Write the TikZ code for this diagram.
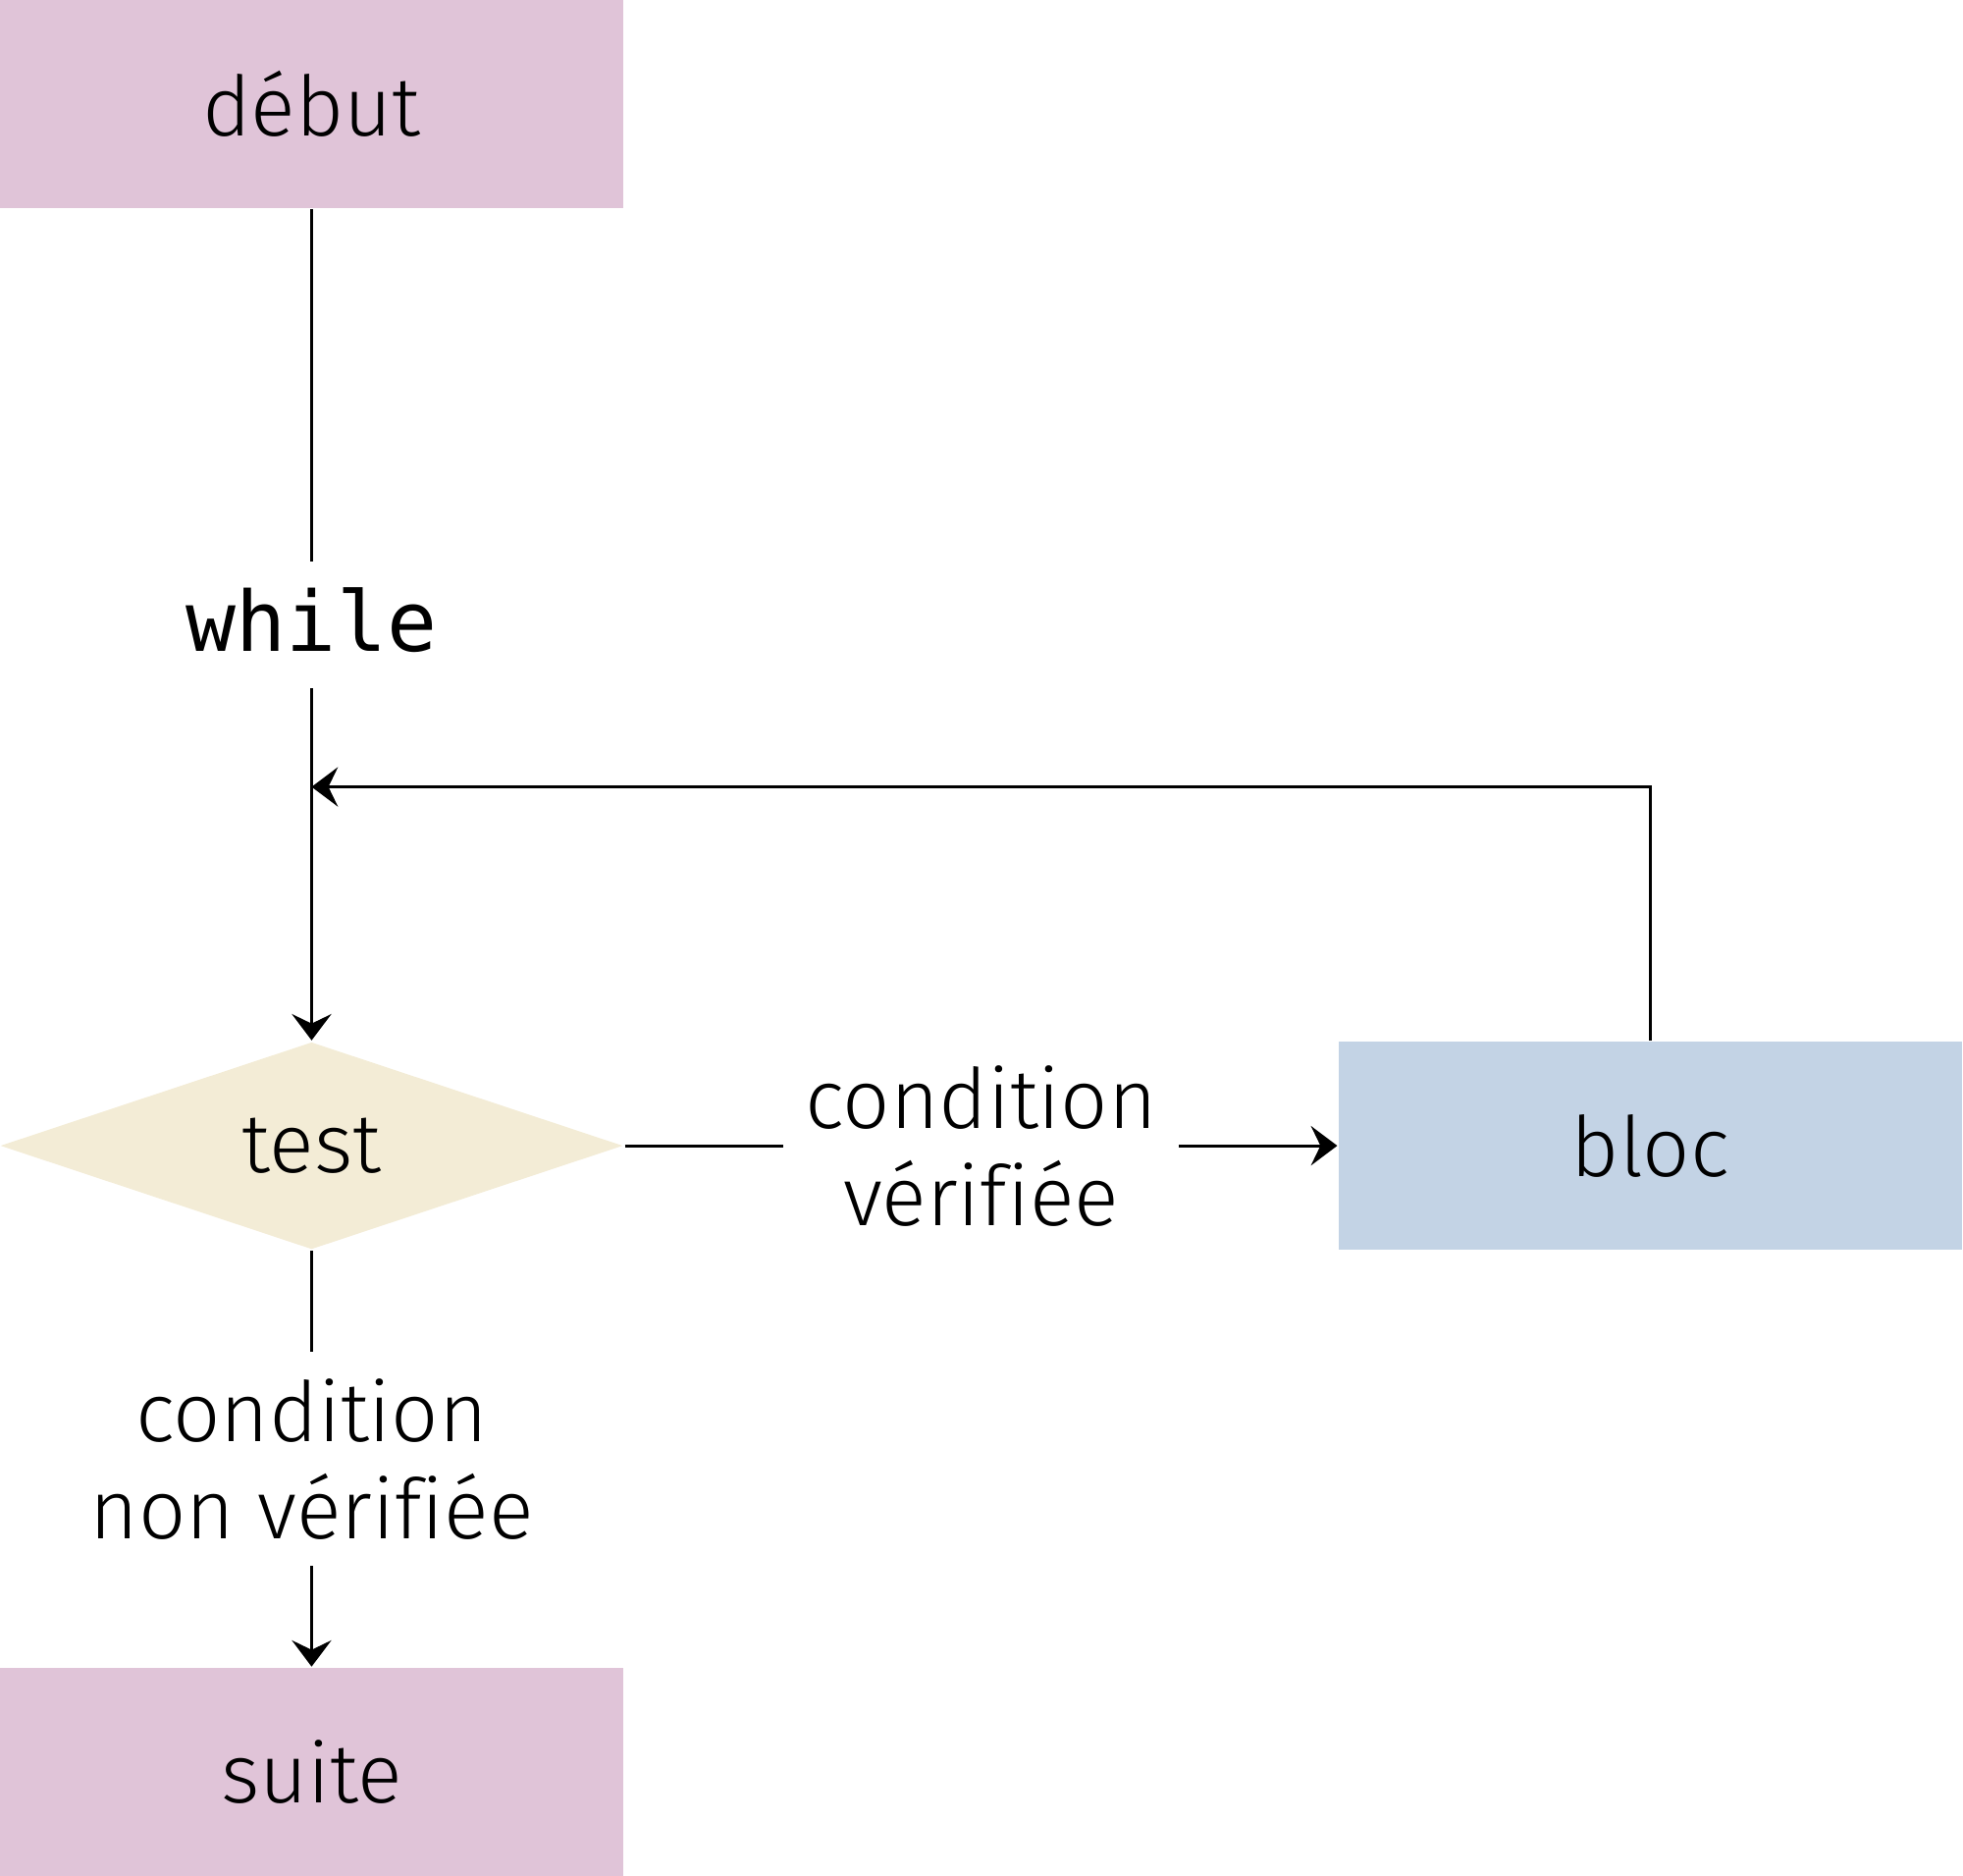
\documentclass[tikz,border=0pt]{standalone}
\usepackage{fontspec}
\setmainfont[Ligatures=NoCommon]{Fira Sans Light}
\setmonofont{DejaVu Sans Mono}
\usepackage{tikz}
\usetikzlibrary{
    arrows.meta,
    calc,
    positioning,
    shapes,
    shapes.geometric,
}
\definecolor{MyStartBG}{HTML}{E0C4D8}
\definecolor{MyTestBG}{HTML}{F3ECD6}
\definecolor{MyBlocBG}{HTML}{C3D3E5}
\tikzstyle{terminal}=[rectangle,fill=MyStartBG,minimum width=3cm,minimum height=1cm]
\tikzstyle{blocbox}=[rectangle,fill=MyBlocBG,minimum width=3cm,minimum height=1cm]
\tikzstyle{testbox}=[diamond,fill=MyTestBG,aspect=3,minimum width=3cm,minimum height=1cm,inner sep=0pt]
\tikzstyle{edgelabel}=[fill=white,align=center,inner xsep=3pt,inner ysep=3.6pt]
\tikzset{
    >={Stealth[length=3.6pt,width=5.4pt,inset=1.3pt]}
}

\begin{document}
\begin{tikzpicture}[font=\fontsize{11.4}{13.3}\selectfont]
    \useasboundingbox (0,0) rectangle (9.449,-9.028);
    % Nodes
    \node[terminal] (debut) at (1.5,-0.5) {début};
    \node[testbox,below=4cm of debut] (test) {test};
    \node[blocbox,right=3.43cm of test] (bloc) {bloc};
    \node[terminal,below=2cm of test] (suite) {suite};
    \coordinate (retour) at ($(debut.south)!.695!(test.north)$);

    % Edges
    \draw[->] (debut) -- node[edgelabel,text depth=1.5pt] {\ttfamily while} (test);
    \draw[->] (test) -- node[edgelabel] {condition\\vérifiée} (bloc);
    \draw[->] (test) -- node[edgelabel] {condition\\non vérifiée} (suite);
    \draw[->] (bloc) |- (retour);
\end{tikzpicture}
\end{document}
